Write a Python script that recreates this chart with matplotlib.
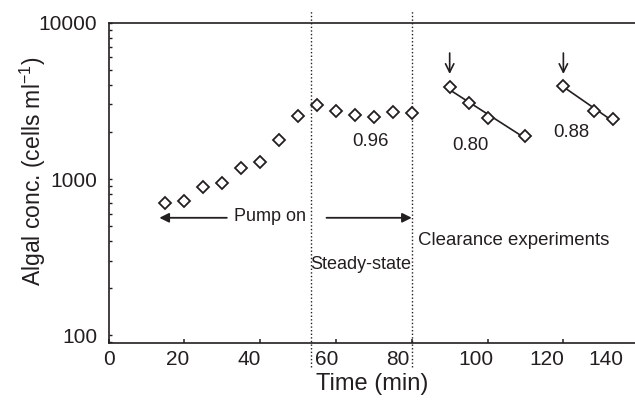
import numpy as np
import matplotlib
matplotlib.use('Agg')
import matplotlib.pyplot as plt
from matplotlib import font_manager
from matplotlib.ticker import FixedLocator, FixedFormatter, NullFormatter, LogLocator

plt.rcParams['font.family'] = ['Liberation Sans', 'DejaVu Sans']
plt.rcParams['mathtext.fontset'] = 'custom'
plt.rcParams['mathtext.rm'] = 'Liberation Sans'
plt.rcParams['mathtext.default'] = 'regular'

# Фаза насоса + стаціонарний стан
time_pump = [15, 20, 25, 30, 35, 40, 45, 50, 55, 60, 65, 70, 75, 80]
conc_pump = [700, 720, 890, 940, 1180, 1290, 1780, 2530, 2970, 2720, 2570, 2500, 2680, 2640]

# Експерименти з очищення
time_clear1 = [90, 95, 100, 110]
conc_clear1 = [3880, 3060, 2460, 1880]
time_clear2 = [120, 128, 133]
conc_clear2 = [3950, 2740, 2410]

rates = ['0.96', '0.80', '0.88']
xtick_values = [0, 20, 40, 60, 80, 100, 120]
xtick_labels = ['0', '20', '40', '60', '80', '100', '120', '140']
ytick_values = [100, 1000, 10000]
ytick_labels = ['100', '1000', '10000']
phase_bounds = [53.3, 80]

ink = '#231f20'

# чи є вузький шрифт
names = {f.name for f in font_manager.fontManager.ttflist}
narrow = 'Liberation Sans Narrow' in names
narrow_font = dict(family='Liberation Sans Narrow', fontsize=15.5) if narrow else dict(fontsize=13)

fig = plt.figure(figsize=(6.35, 4.08), dpi=100)
ax = fig.add_axes([0.171, 0.160, 0.829, 0.7843])

ax.set_yscale('log')
ax.set_xlim(0, 138.9)
ax.set_ylim(89.7, 10000)

mk = dict(marker='D', ms=5.8, mfc='white', mec=ink, mew=1.3, ls='none', zorder=3)
ax.plot(time_pump, conc_pump, **mk)
ax.plot(time_clear1, conc_clear1, **mk)
ax.plot(time_clear2, conc_clear2, **mk)

# лінії регресії (лог)
for t, c in [(time_clear1, conc_clear1), (time_clear2, conc_clear2)]:
    k, b = np.polyfit(t, np.log10(c), 1)
    tt = np.array([t[0], t[-1]])
    ax.plot(tt, 10 ** (k * tt + b), color=ink, lw=1.2, zorder=2)

ax.vlines(phase_bounds, 62.7, 12060, colors=ink, lw=1.0,
          linestyles=(0, (1, 1.6)), clip_on=False, zorder=1)

# стрілки старту очищення
for t0 in [time_clear1[0], time_clear2[0]]:
    ax.annotate('', xy=(t0, 4700), xytext=(t0, 6400),
                arrowprops=dict(arrowstyle='->', lw=1.2, color=ink,
                                mutation_scale=15, shrinkA=0, shrinkB=0))

# Pump on
ax.annotate('', xy=(13.4, 565), xytext=(31.2, 565),
            arrowprops=dict(arrowstyle='-|>', lw=1.3, color=ink, fc=ink,
                            mutation_scale=14, shrinkA=0, shrinkB=0))
ax.annotate('', xy=(80, 565), xytext=(57.5, 565),
            arrowprops=dict(arrowstyle='-|>', lw=1.3, color=ink, fc=ink,
                            mutation_scale=14, shrinkA=0, shrinkB=0))
ax.text(42.6, 580, 'Pump on', ha='center', va='center', color=ink, **narrow_font)
ax.text(66.5, 282, 'Steady-state', ha='center', va='center', color=ink, **narrow_font)
ax.text(107, 407, 'Clearance experiments', ha='center', va='center', color=ink, fontsize=13.4)

ax.text(69, 1735, rates[0], ha='center', va='center', color=ink, fontsize=13.4)
ax.text(95.5, 1648, rates[1], ha='center', va='center', color=ink, fontsize=13.4)
ax.text(122.2, 1977, rates[2], ha='center', va='center', color=ink, fontsize=13.4)

# осі
ax.spines['right'].set_visible(False)
for s in ['left', 'bottom', 'top']:
    ax.spines[s].set_linewidth(1.2)
    ax.spines[s].set_color(ink)

ax.xaxis.set_major_locator(FixedLocator(xtick_values))
ax.xaxis.set_major_formatter(NullFormatter())
# підписи стоять трохи зсунуто від рисок, як в оригіналі
xlabel_pos = [0.2, 18.3, 37, 57.5, 76.4, 96.8, 115.6, 131.2]
ax.xaxis.set_minor_locator(FixedLocator(xlabel_pos))
ax.xaxis.set_minor_formatter(FixedFormatter(xtick_labels))
ax.tick_params(axis='x', which='major', direction='in', length=3, width=1.1, color=ink)
ax.tick_params(axis='x', which='minor', length=0, pad=5, labelsize=15, labelcolor=ink)

ax.yaxis.set_major_locator(FixedLocator(ytick_values))
ax.yaxis.set_major_formatter(FixedFormatter(ytick_labels))
ax.yaxis.set_minor_locator(LogLocator(base=10, subs=np.arange(2, 10)))
ax.yaxis.set_minor_formatter(NullFormatter())
ax.tick_params(axis='y', which='both', direction='in', length=2.5, width=1.0,
               color=ink, labelsize=15, labelcolor=ink, pad=8)

ax.set_xlabel('Time (min)', fontsize=17, color=ink, labelpad=3)
ax.set_ylabel('Algal conc. (cells ml$^{-1}$)', fontsize=16.5, color=ink)
ax.yaxis.set_label_coords(-0.115, 0.537)

fig.savefig('out.png', dpi=100)
